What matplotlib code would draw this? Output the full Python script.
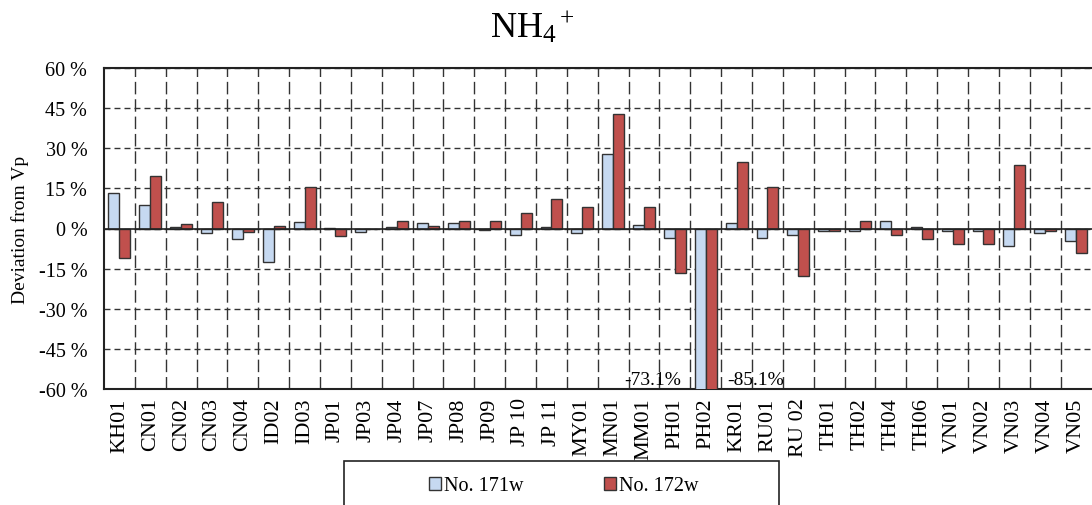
import matplotlib
matplotlib.use('Agg')
import matplotlib.pyplot as plt
from matplotlib.patches import Rectangle, Patch
import numpy as np

# Deviation from Vp [%] per site.
sites = ['KH01', 'CN01', 'CN02', 'CN03', 'CN04', 'ID02', 'ID03', 'JP01', 'JP03', 'JP04',
         'JP07', 'JP08', 'JP09', 'JP 10', 'JP 11', 'MY01', 'MN01', 'MM01', 'PH01', 'PH02',
         'KR01', 'RU01', 'RU 02', 'TH01', 'TH02', 'TH04', 'TH06', 'VN01', 'VN02', 'VN03',
         'VN04', 'VN05']
no171w = [13.2, 8.7, 0.6, -1.7, -4.1, -12.7, 2.4, 0.2, -1.2, 0.6,
          1.9, 1.9, -0.7, -2.4, 0.5, -1.7, 27.7, 1.2, -3.6, -73.1,
          2.2, -3.6, -2.4, -1.1, -1.1, 2.9, 0.6, -1.1, -1.1, -6.5,
          -1.7, -4.6]
no172w = [-11.1, 19.6, 1.7, 9.8, -1.2, 1.1, 15.6, -2.9, 0.0, 2.9,
          1.1, 2.9, 2.9, 5.7, 11.0, 8.1, 42.7, 8.1, -16.8, -85.1,
          24.7, 15.6, -17.9, -1.1, 2.9, -2.4, -4.1, -5.9, -5.9, 23.7,
          -1.1, -9.2]
yticks = [-60, -45, -30, -15, 0, 15, 30, 45, 60]

# Pretty plot configuration.
plt.rcParams['font.family'] = ['Liberation Serif', 'DejaVu Serif']
plt.rcParams['mathtext.fontset'] = 'custom'
plt.rcParams['mathtext.rm'] = 'Liberation Serif'
plt.rcParams['mathtext.it'] = 'Liberation Serif:italic'

BLUE = '#C6D9F1'
RED = '#C0504D'
EDGE = '#333333'

W, H = 1092, 506
fig = plt.figure(figsize=[W / 100, H / 100], dpi=100)
ax = fig.add_axes([104 / W, 1 - 390 / H, 987.5 / W, 321 / H])

x = np.arange(len(sites))
bw = 0.355
ax.bar(x - bw / 2, no171w, bw, color=BLUE, edgecolor=EDGE, linewidth=1.0, zorder=3)
ax.bar(x + bw / 2, no172w, bw, color=RED, edgecolor=EDGE, linewidth=1.0, zorder=3)
ax.axhline(0, color='#222222', linewidth=1.2, zorder=4)

ax.set_xlim(-0.5, len(sites) - 0.5)
ax.set_ylim(-60, 60)
ax.set_yticks(yticks)
ax.set_yticklabels([f'{v} %' for v in yticks], fontsize=14.5)
ax.set_xticks(x)
ax.set_xticklabels(sites, rotation=90, fontsize=16)
ax.set_xticks(x[:-1] + 0.5, minor=True)
ax.tick_params(axis='both', which='both', length=0)
ax.tick_params(axis='x', pad=6)
ax.tick_params(axis='y', pad=12)

ax.grid(axis='y', which='major', color=EDGE, linewidth=1.0, linestyle=(0, (4.3, 2.9)), zorder=1)
ax.grid(axis='x', which='minor', color=EDGE, linewidth=1.0, linestyle=(0, (9, 3.5)), zorder=1)
ax.grid(axis='x', which='major', visible=False)

for s in ['left', 'bottom', 'top']:
    ax.spines[s].set_color('#222222')
    ax.spines[s].set_linewidth(1.5)
ax.spines['right'].set_visible(False)

# Off-scale values for PH02.
ax.text(18.2, -56.5, '-73.1%', ha='right', va='center', fontsize=14, zorder=5)
ax.text(19.71, -56.5, '-85.1%', ha='left', va='center', fontsize=14, zorder=5)

fig.text(532 / W, 1 - 38 / H, r'NH$_4$$^+$', ha='center', va='baseline', fontsize=26)
fig.text(20 / W, 1 - 230 / H, 'Deviation from Vp', rotation=90, ha='center', va='center',
         fontsize=14)

# Legend box runs off the bottom of the picture.
fig.patches.append(Rectangle((344 / W, -0.05), (779 - 344) / W, 0.05 + (506 - 462) / H,
                             transform=fig.transFigure, facecolor='white', edgecolor='#222222',
                             linewidth=1.2, zorder=0))
handles = [Patch(facecolor=BLUE, edgecolor=EDGE, linewidth=1.0, label='No. 171w'),
           Patch(facecolor=RED, edgecolor=EDGE, linewidth=1.0, label='No. 172w')]
fig.legend(handles=handles, loc='center', bbox_to_anchor=(564 / W, 1 - 487 / H), ncol=2,
           frameon=False, fontsize=14.5, handlelength=0.6, handleheight=0.6,
           handletextpad=0.15, columnspacing=4.0)

plt.savefig('out.png', dpi=100)
